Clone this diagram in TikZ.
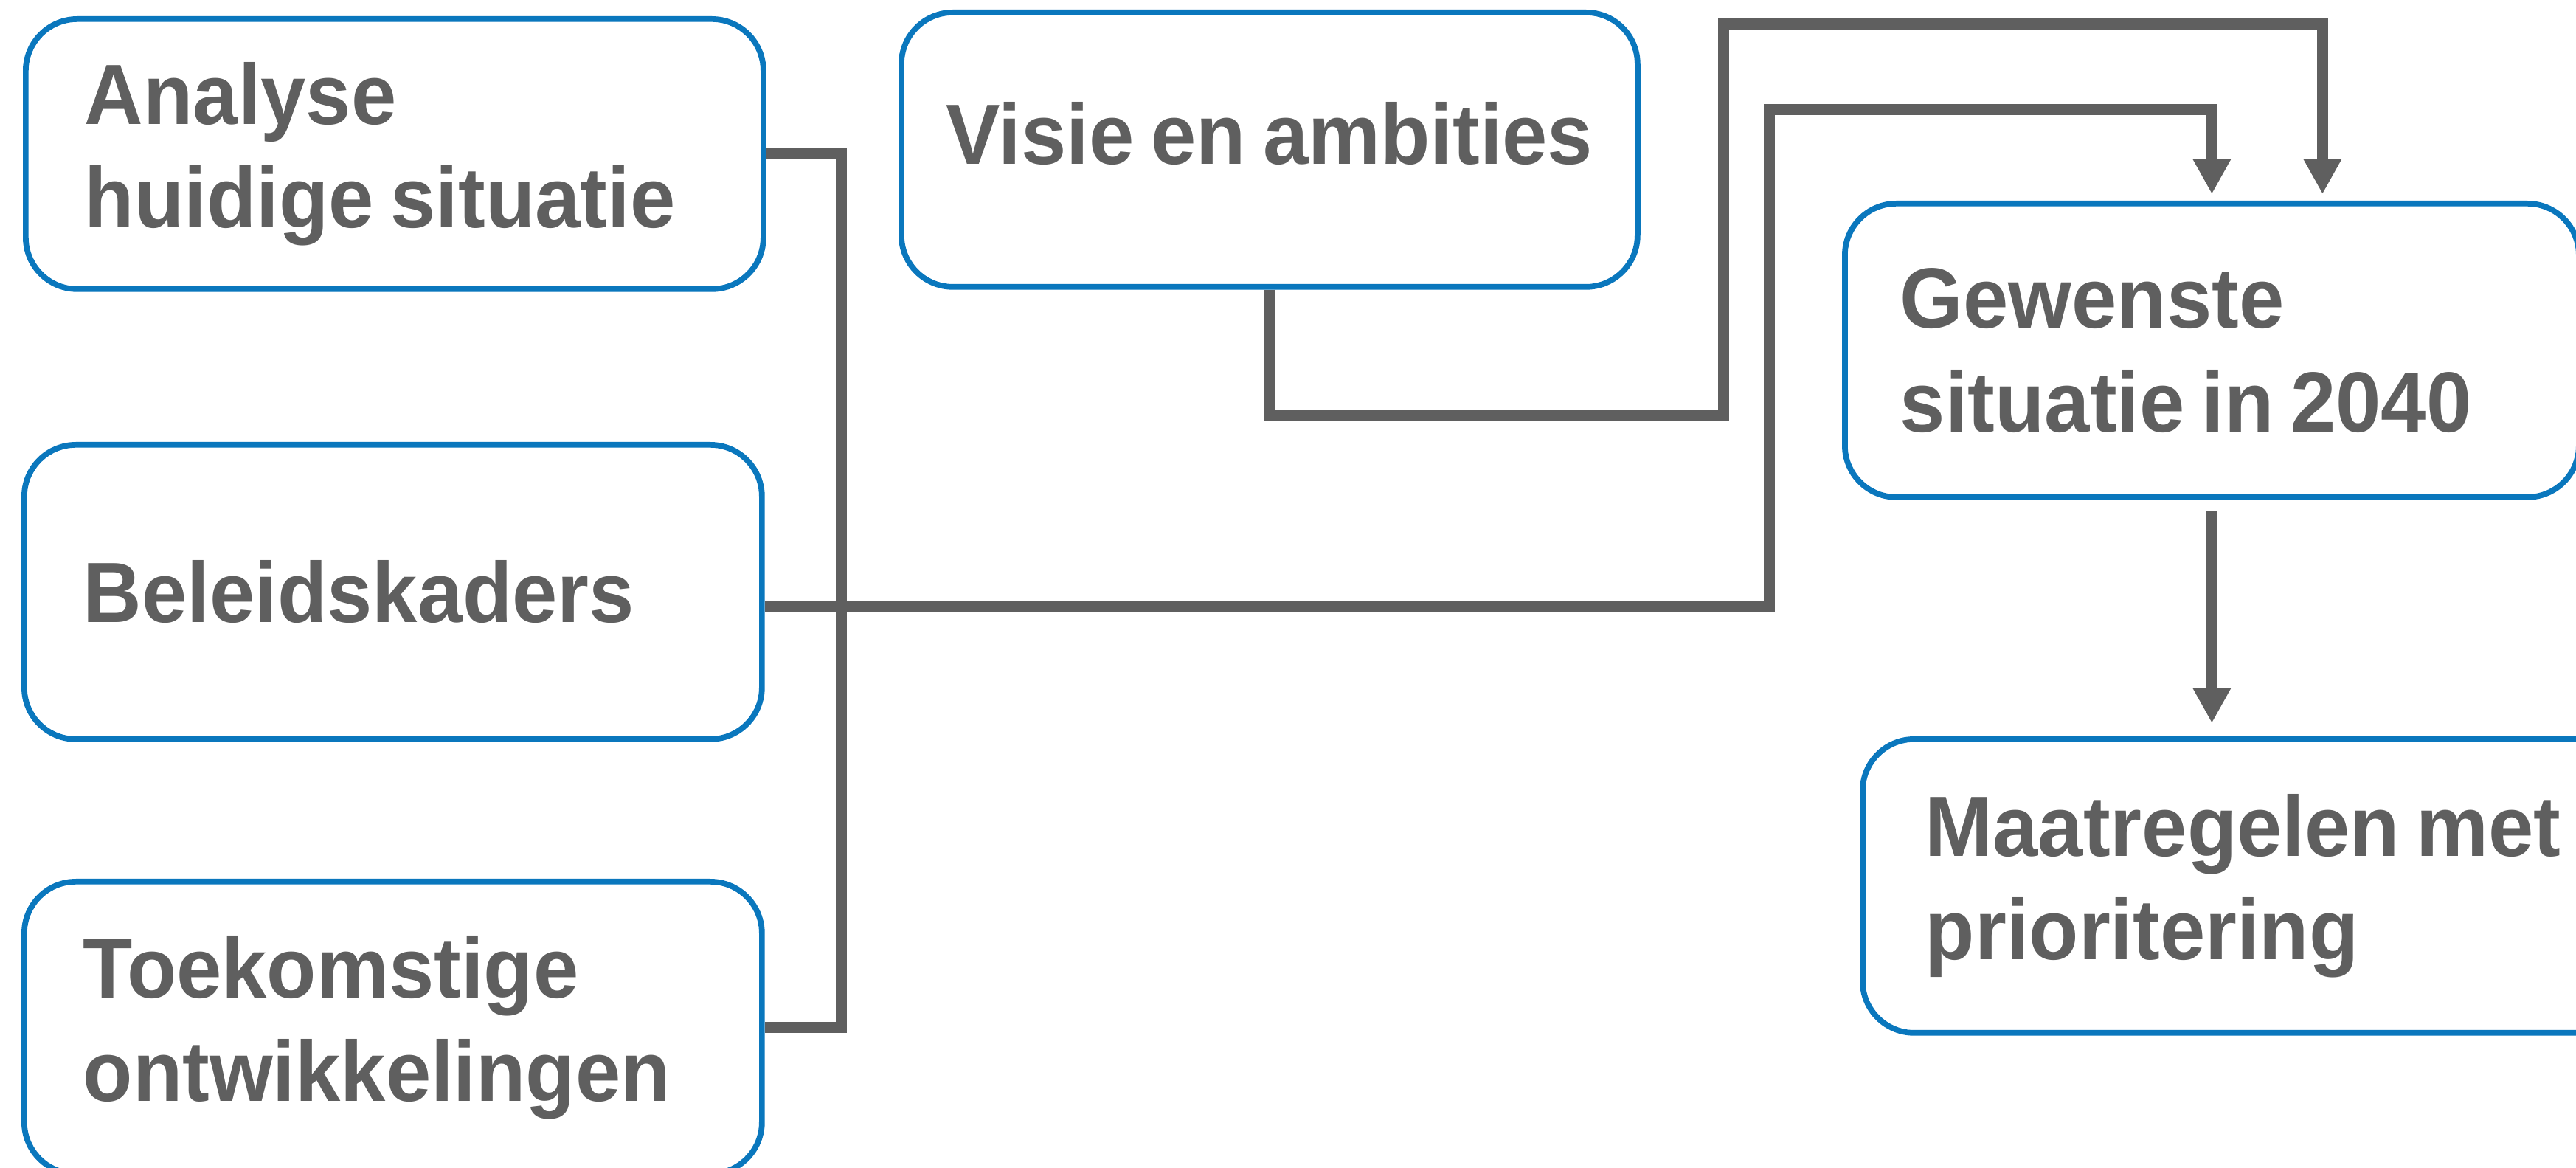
\documentclass[tikz,border=0pt]{standalone}
\usepackage{fontspec}
\setmainfont{Liberation Sans}[FakeStretch=0.95, WordSpace=0.75]
\usetikzlibrary{arrows.meta}
\definecolor{boxblue}{HTML}{0A77BD}
\definecolor{linegrey}{HTML}{5F5F5F}
\tikzset{stage/.style={draw=boxblue, line width=2.2pt, rounded corners=0.7cm, anchor=north west, align=flush left, text=linegrey, font=\fontsize{33}{40}\selectfont\bfseries}}
\tikzset{link/.style={draw=linegrey, line width=0.15cm}}
\tikzset{flow/.style={link, -{Triangle[length=0.47cm, width=0.48cm]}}}

\begin{document}
\begin{tikzpicture}
            \useasboundingbox (0,0) rectangle (34.92,-15.83);
            \fill[white] (0,0) rectangle (34.92,-15.83);
            \node[stage, text width=8.4cm, inner xsep=0.8cm, minimum height=3.66cm] (ana) at (0.31,-0.22) {Analyse\\huidige situatie};
            \node[stage, minimum width=9.98cm, minimum height=3.72cm, text depth=0.45cm] (vis) at (12.18,-0.13) {Visie en ambities};
            \node[stage, text width=8.45cm, inner xsep=0.75cm, minimum height=3.98cm] (gew) at (24.97,-2.72) {Gewenste\\situatie in 2040};
            \node[stage, text width=8.4cm, inner xsep=0.8cm, minimum height=3.99cm] (bel) at (0.29,-5.99) {Beleidskaders};
            \node[stage, text width=8.4cm, inner xsep=0.8cm, minimum height=3.96cm] (toe) at (0.29,-11.91) {Toekomstige\\ontwikkelingen};
            \node[stage, text width=9.0cm, inner xsep=0.85cm, minimum height=3.98cm] (maa) at (25.21,-9.98) {Maatregelen met\\prioritering};
            \coordinate (trunk) at (11.40,-2.14);
            \coordinate (belup) at (23.98,-1.49);
            \coordinate (visknee) at (23.36,-5.63);
            \coordinate (vistop) at (23.36,-0.33);
            \draw[link] (ana.east) -| (trunk |- toe.east) -- (toe.east);
            \draw[flow, shorten >=0.09cm] ([yshift=-0.2cm]bel.east) -| (belup) -| (gew.north);
            \draw[flow, shorten >=0.09cm] (vis.south) |- (visknee) -- (vistop) -| ([xshift=1.5cm]gew.north);
            \draw[flow, shorten <=0.14cm, shorten >=0.18cm] (gew.south) -- (gew.south |- maa.north);
        \end{tikzpicture}
\end{document}
